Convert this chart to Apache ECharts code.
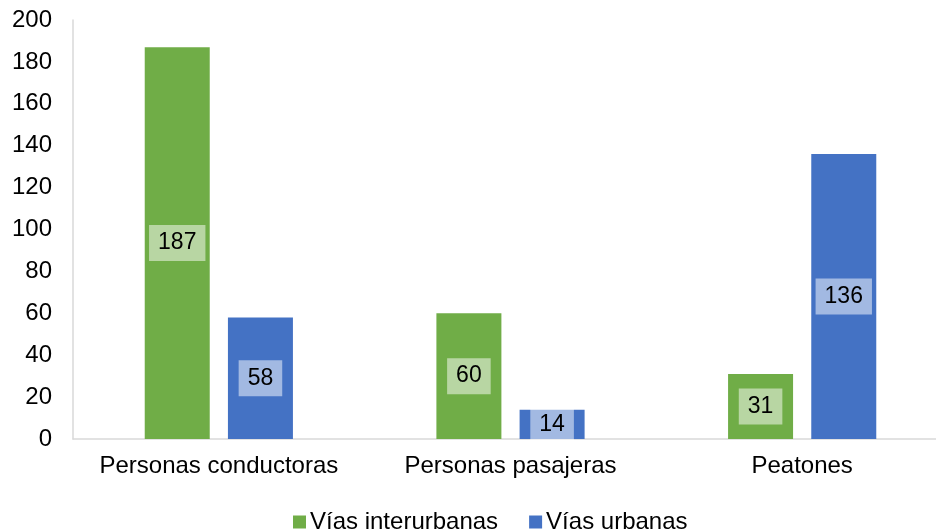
<!DOCTYPE html>
<html>
<head>
<meta charset="utf-8">
<script src="https://cdn.jsdelivr.net/npm/echarts@6/dist/echarts.min.js"></script>
<style>
html,body{margin:0;padding:0;background:#fff;}
#c{width:936px;height:532px;}
</style>
</head>
<body>
<div id="c"></div>
<script>
const categories = ["Personas conductoras", "Personas pasajeras", "Peatones"];
const interurbanas = [187, 60, 31];
const urbanas = [58, 14, 136];
const yTicks = [0, 200, 20];

const font = "Arial, 'Liberation Sans', sans-serif";
const chart = echarts.init(document.getElementById('c'), null, {renderer: 'canvas'});
const labelCfg = {
  show: true,
  position: 'inside',
  fontSize: 23,
  fontFamily: font,
  color: '#000',
  backgroundColor: 'rgba(255,255,255,0.5)',
  padding: [7, 9, 6, 9]
};
chart.setOption({
  animation: false,
  textStyle: {fontFamily: font},
  grid: {left: 73, right: -12, top: 20, bottom: 93, containLabel: false, outerBoundsMode: 'none'},
  legend: {
    data: ['Vías interurbanas', 'Vías urbanas'],
    left: 288,
    top: 505,
    itemWidth: 13,
    itemHeight: 13,
    itemGap: 31,
    icon: 'rect',
    textStyle: {fontSize: 24, color: '#000', fontFamily: font, padding: [0, 0, 0, -1]}
  },
  xAxis: {
    type: 'category',
    data: categories,
    axisLine: {show: true, lineStyle: {color: '#d9d9d9', width: 1.5}},
    axisTick: {show: false},
    axisLabel: {fontSize: 24, color: '#000', margin: 15, fontFamily: font, interval: 0}
  },
  yAxis: {
    type: 'value',
    min: yTicks[0],
    max: yTicks[1],
    interval: yTicks[2],
    axisLine: {show: true, lineStyle: {color: '#d9d9d9', width: 1.5}},
    axisTick: {show: false},
    splitLine: {show: false},
    axisLabel: {fontSize: 24, color: '#000', margin: 21, fontFamily: font}
  },
  series: [
    {
      name: 'Vías interurbanas',
      type: 'bar',
      data: interurbanas,
      barWidth: 65,
      barGap: '28%',
      itemStyle: {color: '#70ad47'},
      label: labelCfg
    },
    {
      name: 'Vías urbanas',
      type: 'bar',
      data: urbanas,
      barWidth: 65,
      barGap: '28%',
      itemStyle: {color: '#4472c4'},
      label: labelCfg
    }
  ]
});
</script>
</body>
</html>
